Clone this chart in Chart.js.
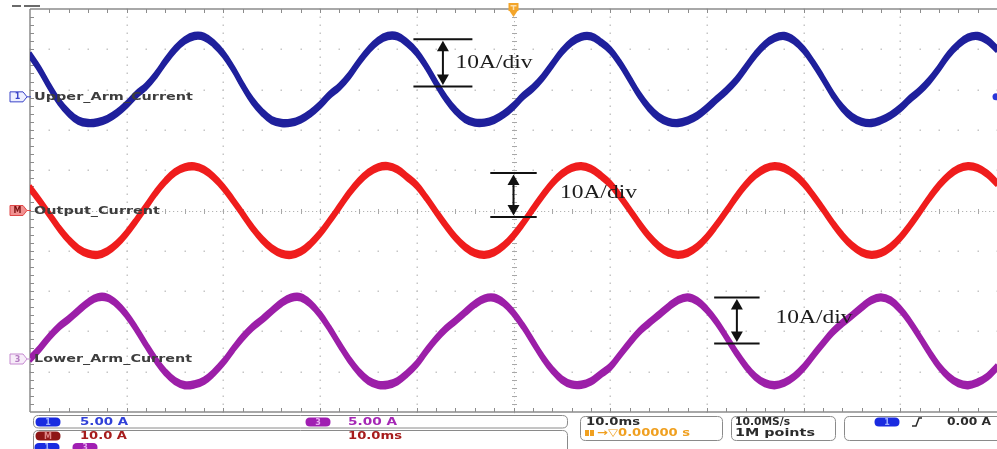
<!DOCTYPE html>
<html>
<head>
<meta charset="utf-8">
<script src="https://cdn.jsdelivr.net/npm/chart.js@4.4.1/dist/chart.umd.min.js"></script>
<style>
  html, body { margin: 0; padding: 0; background: #ffffff; overflow: hidden; }
  #wrap { position: relative; width: 997px; height: 449px; }
</style>
</head>
<body>
<div id="wrap"><canvas id="scope" width="997" height="449"></canvas></div>
<script>
// Acquisition time axis, ms (10 ms/div, trigger at 0)
const TIME_MS = [
  -50,-49,-48,-47,-46,-45,-44,-43,-42,-41,-40,-39,-38,-37,-36,-35,-34,-33,-32,-31,
  -30,-29,-28,-27,-26,-25,-24,-23,-22,-21,-20,-19,-18,-17,-16,-15,-14,-13,-12,-11,
  -10,-9,-8,-7,-6,-5,-4,-3,-2,-1,0,1,2,3,4,5,6,7,8,9,
  10,11,12,13,14,15,16,17,18,19,20,21,22,23,24,25,26,27,28,29,
  30,31,32,33,34,35,36,37,38,39,40,41,42,43,44,45,46,47,48,49,
  50
];

// Channel 1: upper arm current, A
const UPPER_ARM_A = [
  5.2, 3.4, 1.3, -0.6, -2.0, -2.95, -3.25, -3.15, -2.75, -2.0, -0.95, 0.3, 1.3, 2.7, 4.4, 5.9, 7.0, 7.55, 7.45, 6.6,
  5.3, 3.5, 1.4, -0.5, -1.9, -2.9, -3.25, -3.2, -2.8, -2.05, -1.0, 0.25, 1.25, 2.6, 4.3, 5.8, 6.95, 7.55, 7.5, 6.7,
  5.5, 3.75, 1.7, -0.2, -1.7, -2.75, -3.2, -3.2, -2.85, -2.15, -1.15, 0.1, 1.1, 2.4, 4.0, 5.6, 6.8, 7.45, 7.5, 6.8,
  5.8, 4.2, 2.25, 0.25, -1.35, -2.5, -3.1, -3.25, -2.95, -2.35, -1.4, -0.3, 0.75, 2.0, 3.6, 5.2, 6.5, 7.3, 7.55, 7.0,
  5.85, 4.2, 2.3, 0.3, -1.35, -2.5, -3.1, -3.25, -2.9, -2.3, -1.4, -0.25, 0.75, 2.0, 3.55, 5.25, 6.5, 7.35, 7.55, 7.0,
  5.9
];

// Math channel: output current, A
const OUTPUT_A = [
  5.6, 2.4, -1.0, -4.4, -7.3, -9.5, -10.7, -11.0, -10.1, -8.25, -5.6, -2.4, 1.0, 4.4, 7.3, 9.5, 10.7, 10.95, 10.1, 8.25,
  5.7, 2.5, -0.9, -4.3, -7.2, -9.4, -10.7, -11.0, -10.2, -8.3, -5.7, -2.5, 0.9, 4.3, 7.2, 9.4, 10.7, 11.0, 10.2, 8.3,
  6.2, 3.1, -0.35, -3.7, -6.75, -9.1, -10.55, -11.0, -10.35, -8.7, -6.2, -3.1, 0.35, 3.7, 6.75, 9.1, 10.55, 11.0, 10.35, 8.7,
  6.6, 3.55, 0.2, -3.25, -6.35, -8.8, -10.4, -11.0, -10.5, -9.0, -6.6, -3.55, -0.2, 3.25, 6.35, 8.8, 10.4, 11.0, 10.5, 9.0,
  6.75, 3.7, 0.35, -3.1, -6.2, -8.7, -10.35, -11.0, -10.55, -9.1, -6.75, -3.7, -0.35, 3.1, 6.2, 8.7, 10.35, 11.0, 10.55, 9.1,
  6.75
];

// Channel 3: lower arm current, A
const LOWER_ARM_A = [
  0.0, 1.3, 2.75, 4.0, 4.95, 6.0, 7.0, 7.65, 7.6, 6.8, 5.45, 3.7, 1.75, -0.1, -1.65, -2.75, -3.25, -3.15, -2.7, -1.7,
  -0.4, 1.2, 2.7, 3.95, 4.9, 5.95, 6.95, 7.6, 7.65, 6.85, 5.5, 3.75, 1.8, -0.05, -1.6, -2.7, -3.2, -3.2, -2.75, -1.8,
  -0.6, 1.0, 2.5, 3.75, 4.75, 5.8, 6.8, 7.5, 7.6, 6.95, 5.7, 4.05, 2.15, 0.25, -1.35, -2.55, -3.15, -3.2, -2.8, -1.9,
  -1.0, 0.5, 2.0, 3.4, 4.45, 5.45, 6.45, 7.3, 7.65, 7.2, 6.1, 4.6, 2.75, 0.85, -0.85, -2.2, -3.0, -3.25, -2.95, -2.2,
  -1.05, 0.45, 1.95, 3.35, 4.45, 5.4, 6.4, 7.3, 7.65, 7.25, 6.15, 4.6, 2.75, 0.85, -0.9, -2.2, -3.0, -3.25, -2.9, -2.2,
  -1.0
];

// Vertical settings of each trace: scale (A/div) and ground position (div from centre)
const CHANNELS = [
  { name: 'Lower_Arm_Current', tag: '3', values: LOWER_ARM_A, ampsPerDiv: 5,  groundDiv: -3.685, color: '#9c1fa8',
    tagStroke: '#c58ad0', tagFill: '#f7ecf9', tagText: '#b57cc2', labelWidth: 158 },
  { name: 'Output_Current',    tag: 'M', values: OUTPUT_A,    ampsPerDiv: 10, groundDiv: 0,      color: '#ef1d1d',
    tagStroke: '#e04848', tagFill: '#f19090', tagText: '#7a1010', labelWidth: 126 },
  { name: 'Upper_Arm_Current', tag: '1', values: UPPER_ARM_A, ampsPerDiv: 5,  groundDiv: 2.82,   color: '#1f209c',
    tagStroke: '#3a44c8', tagFill: '#eef0ff', tagText: '#3a44c8', labelWidth: 159 }
];

// "10A/div" scale brackets (ms / div coordinates)
const SCALE_MARKS = [
  { xc: -7.3, half: 3.05, top: 4.25,  bottom: 3.08,  textX: -6.0, textY: 3.67 },
  { xc: 0.0,  half: 2.4,  top: 0.93,  bottom: -0.16, textX: 4.8,  textY: 0.43 },
  { xc: 23.1, half: 2.35, top: -2.16, bottom: -3.3,  textX: 27.1, textY: -2.68 }
];
const SCALE_TEXT = '10A/div';

function fitText(ctx, text, x, y, width, font, color) {
  ctx.save();
  ctx.font = font;
  ctx.fillStyle = color;
  ctx.textBaseline = 'middle';
  ctx.textAlign = 'left';
  const w = ctx.measureText(text).width;
  ctx.translate(x, y);
  ctx.scale(width / w, 1);
  ctx.fillText(text, 0, 0);
  ctx.restore();
}

function roundRect(ctx, x, y, w, h, r) {
  ctx.beginPath();
  ctx.moveTo(x + r, y);
  ctx.lineTo(x + w - r, y);
  ctx.quadraticCurveTo(x + w, y, x + w, y + r);
  ctx.lineTo(x + w, y + h - r);
  ctx.quadraticCurveTo(x + w, y + h, x + w - r, y + h);
  ctx.lineTo(x + r, y + h);
  ctx.quadraticCurveTo(x, y + h, x, y + h - r);
  ctx.lineTo(x, y + r);
  ctx.quadraticCurveTo(x, y, x + r, y);
  ctx.closePath();
}

function pill(ctx, cx, cy, w, h, fill, label, labelColor) {
  ctx.save();
  roundRect(ctx, cx - w / 2, cy - h / 2, w, h, h / 2);
  ctx.fillStyle = fill;
  ctx.fill();
  ctx.font = 'bold 8px "DejaVu Sans"';
  ctx.fillStyle = labelColor;
  ctx.textAlign = 'center';
  ctx.textBaseline = 'middle';
  ctx.fillText(label, cx, cy + 0.5);
  ctx.restore();
}

// Graticule: dotted divisions, centre cross with minor ticks, framed edges
const graticule = {
  id: 'graticule',
  beforeDatasetsDraw(chart) {
    const { ctx, chartArea: a, scales: { x, y } } = chart;
    ctx.save();
    ctx.fillStyle = '#c6c6c6';
    for (let xm = -40; xm <= 40; xm += 10) {
      if (xm === 0) continue;
      const px = Math.round(x.getPixelForValue(xm));
      for (let k = -25; k <= 25; k++) {
        ctx.fillRect(px - 0.5, Math.round(y.getPixelForValue(k * 0.2)) - 0.5, 1.5, 1.5);
      }
    }
    for (let ym = -4; ym <= 4; ym++) {
      if (ym === 0) continue;
      const py = Math.round(y.getPixelForValue(ym));
      for (let k = -25; k <= 25; k++) {
        ctx.fillRect(Math.round(x.getPixelForValue(k * 2)) - 0.5, py - 0.5, 1.5, 1.5);
      }
    }
    // centre cross
    const cx = Math.round(x.getPixelForValue(0)) + 0.5;
    const cy = Math.round(y.getPixelForValue(0)) + 0.5;
    ctx.fillStyle = '#b4b4b4';
    for (let k = -125; k <= 125; k++) ctx.fillRect(Math.round(x.getPixelForValue(k * 0.4)), cy - 0.5, 1.2, 1);
    for (let k = -50; k <= 50; k++) ctx.fillRect(cx - 0.5, Math.round(y.getPixelForValue(k * 0.1)), 1, 1.2);
    ctx.strokeStyle = '#a8a8a8';
    ctx.lineWidth = 1;
    ctx.beginPath();
    for (let k = -24; k <= 24; k++) {
      const px = Math.round(x.getPixelForValue(k * 2)) + 0.5;
      ctx.moveTo(px, cy - 2.5); ctx.lineTo(px, cy + 2.5);
    }
    for (let k = -24; k <= 24; k++) {
      const py = Math.round(y.getPixelForValue(k * 0.2)) + 0.5;
      ctx.moveTo(cx - 2.5, py); ctx.lineTo(cx + 2.5, py);
    }
    ctx.stroke();
    // frame
    ctx.strokeStyle = '#8c8c8c';
    ctx.lineWidth = 1.5;
    ctx.beginPath();
    ctx.moveTo(a.left, a.top); ctx.lineTo(a.right, a.top);
    ctx.moveTo(a.left, a.bottom); ctx.lineTo(a.right, a.bottom);
    ctx.moveTo(a.left, a.top); ctx.lineTo(a.left, a.bottom);
    ctx.stroke();
    ctx.lineWidth = 1;
    ctx.beginPath();
    for (let k = -24; k <= 24; k++) {
      const px = Math.round(x.getPixelForValue(k * 2)) + 0.5;
      ctx.moveTo(px, a.top); ctx.lineTo(px, a.top + 4);
      ctx.moveTo(px, a.bottom); ctx.lineTo(px, a.bottom - 4);
    }
    for (let k = -24; k <= 24; k++) {
      const py = Math.round(y.getPixelForValue(k * 0.2)) + 0.5;
      ctx.moveTo(a.left, py); ctx.lineTo(a.left + 4, py);
    }
    ctx.stroke();
    ctx.restore();
  }
};

// Ripple band: each trace is also stroked slightly above and below itself
const rippleBand = {
  id: 'rippleBand',
  beforeDatasetDraw(chart, args) {
    const ctx = chart.ctx;
    ctx.save();
    ctx.beginPath();
    ctx.rect(chart.chartArea.left, chart.chartArea.top, chart.chartArea.right - chart.chartArea.left, chart.chartArea.bottom - chart.chartArea.top);
    ctx.clip();
    [-2.6, -1.3, 1.3, 2.6].forEach(dy => {
      ctx.save();
      ctx.translate(0, dy);
      args.meta.dataset.draw(ctx, chart.chartArea);
      ctx.restore();
    });
    ctx.restore();
  }
};

// Channel tags, trace names, trigger markers and scale brackets
const overlay = {
  id: 'overlay',
  afterDatasetsDraw(chart) {
    const { ctx, chartArea: a, scales: { x, y } } = chart;
    ctx.save();

    CHANNELS.forEach(ch => {
      const gy = y.getPixelForValue(ch.groundDiv);
      // tag with pointed right side
      ctx.beginPath();
      ctx.moveTo(10, gy - 5); ctx.lineTo(23, gy - 5); ctx.lineTo(27, gy); ctx.lineTo(23, gy + 5);
      ctx.lineTo(10, gy + 5); ctx.closePath();
      ctx.fillStyle = ch.tagFill; ctx.fill();
      ctx.strokeStyle = ch.tagStroke; ctx.lineWidth = 1; ctx.stroke();
      ctx.strokeStyle = ch.tagStroke;
      ctx.beginPath(); ctx.moveTo(27, gy); ctx.lineTo(31, gy); ctx.stroke();
      ctx.font = 'bold 8px "DejaVu Sans"';
      ctx.fillStyle = ch.tagText; ctx.textAlign = 'center'; ctx.textBaseline = 'middle';
      ctx.fillText(ch.tag, 17.5, gy + 0.5);
      fitText(ctx, ch.name, 34, gy + 0.5, ch.labelWidth, 'bold 10px "DejaVu Sans"', '#3d3d3d');
    });

    // trigger position marker
    const tx = x.getPixelForValue(0);
    ctx.fillStyle = '#f3a52a';
    ctx.fillRect(tx - 5, 3, 10, 8);
    ctx.beginPath(); ctx.moveTo(tx - 4, 11); ctx.lineTo(tx + 4, 11); ctx.lineTo(tx, 17); ctx.closePath(); ctx.fill();
    ctx.fillStyle = '#fbe0b0';
    ctx.fillRect(tx - 3, 5, 6, 1.5);
    ctx.fillRect(tx - 0.75, 5, 1.5, 5);

    // trigger level marker on the right edge
    const ly = y.getPixelForValue(CHANNELS[2].groundDiv);
    ctx.fillStyle = '#2a36d8';
    ctx.beginPath(); ctx.arc(a.right - 1, ly, 3.5, 0, Math.PI * 2); ctx.fill();

    // top-left readout remnant
    ctx.fillStyle = '#6a6a6a';
    ctx.fillRect(12, 5, 9, 2);
    ctx.fillRect(24, 5, 16, 2);

    // 10A/div brackets
    SCALE_MARKS.forEach(m => {
      const x0 = x.getPixelForValue(m.xc - m.half), x1 = x.getPixelForValue(m.xc + m.half);
      const xc = x.getPixelForValue(m.xc);
      const yt = y.getPixelForValue(m.top), yb = y.getPixelForValue(m.bottom);
      ctx.strokeStyle = '#111'; ctx.lineWidth = 2;
      ctx.beginPath();
      ctx.moveTo(x0, yt); ctx.lineTo(x1, yt);
      ctx.moveTo(x0, yb); ctx.lineTo(x1, yb);
      ctx.moveTo(xc, yt + 6); ctx.lineTo(xc, yb - 6);
      ctx.stroke();
      ctx.fillStyle = '#111';
      ctx.beginPath(); ctx.moveTo(xc, yt + 1.5); ctx.lineTo(xc - 6, yt + 12); ctx.lineTo(xc + 6, yt + 12); ctx.closePath(); ctx.fill();
      ctx.beginPath(); ctx.moveTo(xc, yb - 1.5); ctx.lineTo(xc - 6, yb - 12); ctx.lineTo(xc + 6, yb - 12); ctx.closePath(); ctx.fill();
      fitText(ctx, SCALE_TEXT, x.getPixelForValue(m.textX), y.getPixelForValue(m.textY), 77,
        '19px "Liberation Serif"', '#1c1c1c');
    });
    ctx.restore();
  },

  // status readouts below the graticule
  afterDraw(chart) {
    const ctx = chart.ctx;
    ctx.save();
    ctx.strokeStyle = '#8a8a8a';
    ctx.lineWidth = 1;
    roundRect(ctx, 33.5, 415.5, 534, 12.5, 5); ctx.stroke();
    roundRect(ctx, 33.5, 430.5, 534, 30, 5); ctx.stroke();
    roundRect(ctx, 580.5, 416.5, 142, 24, 5); ctx.stroke();
    roundRect(ctx, 731.5, 416.5, 104, 24, 5); ctx.stroke();
    roundRect(ctx, 844.5, 416.5, 170, 24, 5); ctx.stroke();

    const f = 'bold 10px "DejaVu Sans"';
    pill(ctx, 48, 422, 25, 9, '#1a2be0', '1', '#9fb0ff');
    fitText(ctx, '5.00 A', 80, 422.5, 48, f, '#3040d8');
    pill(ctx, 318, 422, 25, 9, '#a01eb2', '3', '#e7a8f0');
    fitText(ctx, '5.00 A', 348, 422.5, 49, f, '#a528b5');

    pill(ctx, 48, 436, 25, 9, '#8e1616', 'M', '#e08888');
    fitText(ctx, '10.0 A', 80, 436.5, 47, f, '#a61c1c');
    fitText(ctx, '10.0ms', 348, 436.5, 54, f, '#a61c1c');

    pill(ctx, 47, 447.5, 25, 9, '#1a2be0', '1', '#9fb0ff');
    pill(ctx, 85, 447.5, 25, 9, '#a01eb2', '3', '#e7a8f0');

    fitText(ctx, '10.0ms', 586, 422, 54, f, '#2b2b2b');
    ctx.fillStyle = '#f0a020';
    ctx.fillRect(585, 430, 4, 6);
    ctx.fillRect(590, 430, 4, 6);
    fitText(ctx, '\u2192\u25BD0.00000 s', 597, 433.5, 93, f, '#f0a020');

    fitText(ctx, '10.0MS/s', 735, 422, 55, f, '#2b2b2b');
    fitText(ctx, '1M points', 735, 433.5, 80, f, '#2b2b2b');

    pill(ctx, 887, 422, 25, 9, '#1a2be0', '1', '#9fb0ff');
    ctx.strokeStyle = '#2b2b2b'; ctx.lineWidth = 1.5;
    ctx.beginPath(); ctx.moveTo(912, 426); ctx.lineTo(916, 426); ctx.lineTo(919, 418); ctx.lineTo(922, 418); ctx.stroke();
    fitText(ctx, '0.00 A', 947, 422.5, 44, f, '#2b2b2b');
    ctx.restore();
  }
};

const datasets = CHANNELS.map(ch => ({
  label: ch.name,
  data: TIME_MS.map((t, i) => ({ x: t, y: ch.groundDiv + ch.values[i] / ch.ampsPerDiv })),
  borderColor: ch.color,
  borderWidth: 3.2,
  pointRadius: 0,
  tension: 0.4,
  fill: false
}));

new Chart(document.getElementById('scope'), {
  type: 'line',
  data: { datasets },
  options: {
    responsive: false,
    devicePixelRatio: 1,
    animation: false,
    layout: { padding: { left: 30, top: 9, right: 0, bottom: 37 } },
    plugins: { legend: { display: false }, tooltip: { enabled: false } },
    scales: {
      x: { type: 'linear', min: -50, max: 50, ticks: { display: false }, grid: { display: false, drawTicks: false }, border: { display: false } },
      y: { type: 'linear', min: -5, max: 5, ticks: { display: false }, grid: { display: false, drawTicks: false }, border: { display: false } }
    }
  },
  plugins: [graticule, rippleBand, overlay]
});
</script>
</body>
</html>
